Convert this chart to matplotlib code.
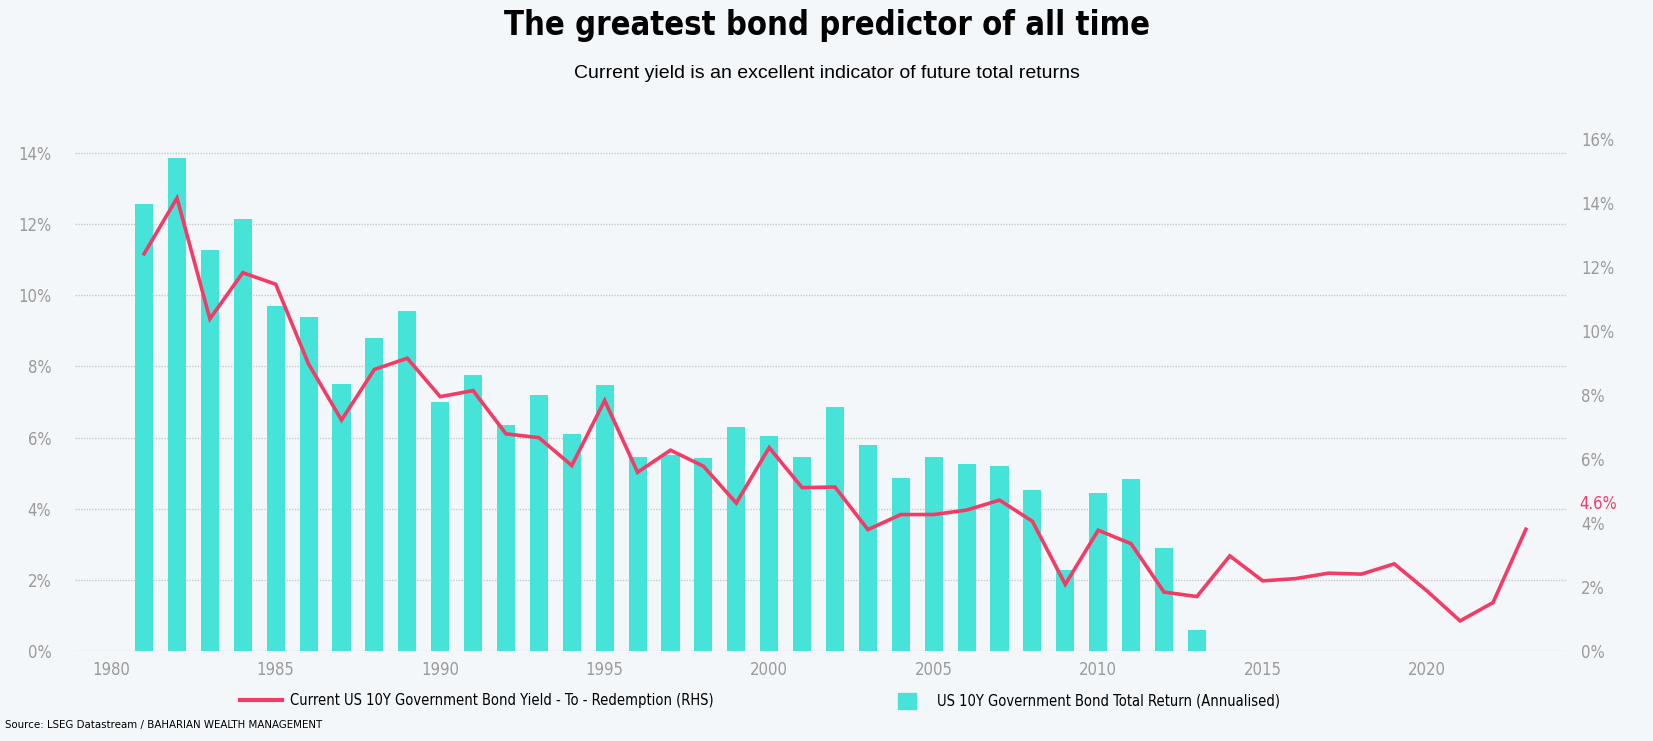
import matplotlib
matplotlib.use("Agg")
import matplotlib.pyplot as plt
from matplotlib import font_manager as fm
from matplotlib.lines import Line2D
from matplotlib.patches import Patch

# total return bars (left axis, %)
bar_years = list(range(1981, 2014))
total_return = [12.57, 13.86, 11.27, 12.15, 9.70, 9.39, 7.51, 8.80, 9.56, 7.00,
                7.76, 6.35, 7.20, 6.10, 7.48, 5.46, 5.52, 5.43, 6.30, 6.05,
                5.46, 6.87, 5.80, 4.87, 5.46, 5.27, 5.21, 4.54, 2.29, 4.45,
                4.85, 2.91, 0.58]

# yield to redemption line (right axis, %)
line_years = list(range(1981, 2024))
yield_rhs = [12.40, 14.14, 10.37, 11.81, 11.45, 8.96, 7.21, 8.79, 9.14, 7.94,
             8.13, 6.78, 6.66, 5.79, 7.82, 5.58, 6.27, 5.77, 4.62, 6.35,
             5.10, 5.12, 3.79, 4.26, 4.26, 4.40, 4.71, 4.05, 2.08, 3.77,
             3.35, 1.84, 1.70, 2.97, 2.19, 2.26, 2.43, 2.40, 2.72, 1.87,
             0.94, 1.51, 3.80]

latest_yield = 4.6
x_ticks = [1980, 1985, 1990, 1995, 2000, 2005, 2010, 2015, 2020]
left_ticks = [0, 2, 4, 6, 8, 10, 12, 14]
right_ticks = [0, 2, 4, 6, 8, 10, 12, 14, 16]

bg = "#f4f7fa"
teal = "#45e3d8"
red = "#f43b66"
grey = "#9a9a9a"


# look for an upright condensed face (DIN-like labels), fall back to DejaVu Sans
def condensed(bold):
    for f in fm.fontManager.ttflist:
        narrow = f.stretch in ("condensed", "semi-condensed", "extra-condensed") \
            or "Condensed" in f.name or "Narrow" in f.name
        isbold = f.weight in ("bold", 700, "heavy", 800, 900, "black")
        if (narrow and isbold == bold and f.style == "normal"
                and "Mono" not in f.name and "Serif" not in f.name):
            return f.fname
    return None


f_reg = condensed(False)
f_bold = condensed(True)
has_cond = f_reg is not None
fp_lab = fm.FontProperties(fname=f_reg) if f_reg else fm.FontProperties(family="DejaVu Sans")
fp_title = fm.FontProperties(fname=f_bold) if f_bold else fm.FontProperties(family="DejaVu Sans", weight="bold")
lab_size = 12 if has_cond else 11
title_size = 23.5 if f_bold else 22

W, H = 1653, 741
fig = plt.figure(figsize=(W / 100, H / 100), dpi=100, facecolor=bg)
ax = fig.add_axes([75 / W, 1 - 651 / H, (1567 - 75) / W, (651 - 138.5) / H])
ax.set_facecolor(bg)

ax.bar(bar_years, total_return, width=0.55, color=teal, zorder=2)
ax.set_xlim(1978.9, 2024.25)
ax.set_ylim(0, 14.41)
ax.set_yticks(left_ticks)
ax.set_yticklabels([f"{t}%" for t in left_ticks])
ax.set_xticks(x_ticks)
ax.grid(axis="y", color="#c9c9c9", linestyle=(0, (1, 1)), linewidth=1.0, zorder=0)
ax.tick_params(axis="y", length=0, pad=17, labelcolor=grey)
ax.tick_params(axis="x", length=0, pad=7, labelcolor=grey)
for s in ax.spines.values():
    s.set_visible(False)

ax2 = ax.twinx()
ax2.plot(line_years, yield_rhs, color=red, linewidth=2.6, solid_joinstyle="miter", zorder=3)
ax2.set_ylim(0, 16)
ax2.set_yticks(right_ticks)
ax2.set_yticklabels([f"{t}%" for t in right_ticks])
ax2.tick_params(axis="y", length=0, pad=10, labelcolor=grey)
for s in ax2.spines.values():
    s.set_visible(False)
ax2.text(1.0085, latest_yield, f"{latest_yield}%", transform=ax2.get_yaxis_transform(),
         color=red, fontproperties=fp_lab, fontsize=lab_size, ha="left", va="center")

for lab in ax.get_xticklabels() + ax.get_yticklabels() + ax2.get_yticklabels():
    lab.set_fontproperties(fp_lab)
    lab.set_fontsize(lab_size)

fig.text(0.5, 1 - 25 / H, "The greatest bond predictor of all time", ha="center", va="center",
         fontproperties=fp_title, fontsize=title_size, color="black")
fig.text(0.5, 1 - 74 / H, "Current yield is an excellent indicator of future total returns",
         ha="center", va="center", fontsize=14, family=["Liberation Sans", "DejaVu Sans"])

leg_prop = fp_lab.copy()
leg_prop.set_size(10.5 if has_cond else 10)
fig.legend(handles=[Line2D([], [], color=red, linewidth=3)],
           labels=["Current US 10Y Government Bond Yield - To - Redemption (RHS)"],
           loc="center left", bbox_to_anchor=(240 / W, 1 - 701 / H), frameon=False,
           borderpad=0, borderaxespad=0, handlelength=2.9, handletextpad=0.55, prop=leg_prop)
fig.legend(handles=[Patch(color=teal)],
           labels=["US 10Y Government Bond Total Return (Annualised)"],
           loc="center left", bbox_to_anchor=(898 / W, 1 - 701 / H), frameon=False,
           borderpad=0, borderaxespad=0, handlelength=1.25, handleheight=1.25,
           handletextpad=1.4, prop=leg_prop)

src_prop = fp_lab.copy()
src_prop.set_size(8.2 if has_cond else 7.5)
fig.text(5 / W, 1 - 725 / H, "Source: LSEG Datastream / BAHARIAN WEALTH MANAGEMENT",
         ha="left", va="center", fontproperties=src_prop)

fig.savefig("out.png", dpi=100, facecolor=bg)
